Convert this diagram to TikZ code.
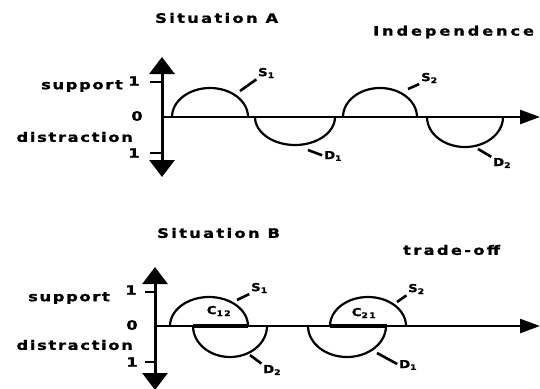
\documentclass[tikz,border=0pt]{standalone}
\usepackage{fontspec}
\newfontfamily\lblfont{DejaVu Sans}[FakeStretch=1.25, FakeBold=1.2, LetterSpace=18]
\newfontfamily\subfont{DejaVu Sans}[FakeStretch=1.2, FakeBold=1.2]
\usetikzlibrary{arrows.meta}

\tikzset{
  axisline/.style={line width=3pt},
  vaxis/.style={axisline, {Triangle[width=25pt,length=17pt]}-{Triangle[width=25pt,length=17pt]}},
  haxis/.style={line width=2.4pt, -{Triangle[width=14pt,length=20pt]}},
  tickmark/.style={line width=2pt},
  curve/.style={line width=2.2pt},
  overlap/.style={line width=4.5pt},
  leader/.style={line width=2.6pt, shorten >=2pt},
  lbl/.style={font=\lblfont\bfseries\fontsize{13}{15}\selectfont, inner sep=0pt},
  sublbl/.style={font=\subfont\bfseries\fontsize{11}{12}\selectfont, inner sep=0pt},
}

\begin{document}
\begin{tikzpicture}[x=1pt, y=-1pt]
  \fill[white] (0,0) rectangle (540,388);
  \useasboundingbox (0,0) rectangle (540,388);

  % ---------- Situation A ----------
  \node[lbl, anchor=west] (titA) at (155,18) {Situation A};
  \node[lbl, anchor=west] (indep) at (373,32) {\addfontfeature{LetterSpace=22}Independence};

  % axes
  \draw[vaxis] (162,177) -- (162,57);
  \draw[haxis] (162,117) -- (540,117);
  \foreach \y in {82,153} \draw[tickmark] (150,\y) -- (162,\y);
  \node[lbl, anchor=east] (supA) at (123,86) {\addfontfeature{LetterSpace=13}support};
  \node[lbl, anchor=east] (disA) at (133,137) {\addfontfeature{LetterSpace=13}distraction};
  \node[lbl] (oneA) at (134,81) {1};
  \node[lbl] (zeroA) at (137,116) {0};
  \node[lbl] (mA) at (134,153) {1};

  % support and distraction curves
  \draw[curve] (172,117) arc[start angle=180, end angle=360, x radius=38, y radius=29];
  \draw[curve] (255,117) arc[start angle=180, end angle=0, x radius=40, y radius=28];
  \draw[curve] (343,117) arc[start angle=180, end angle=360, x radius=37, y radius=29];
  \draw[curve] (427,117) arc[start angle=180, end angle=0, x radius=38, y radius=30];

  % curve labels
  \node[sublbl, anchor=west] (S1a) at (258,73) {S\textsubscript{1}};
  \node[sublbl, anchor=west] (D1a) at (324,156) {D\textsubscript{1}};
  \node[sublbl, anchor=west] (S2a) at (421,78) {S\textsubscript{2}};
  \node[sublbl, anchor=west] (D2a) at (493,163) {D\textsubscript{2}};
  \coordinate (s1a) at (240,91);
  \coordinate (d1a) at (308,150);
  \coordinate (s2a) at (408,89);
  \coordinate (d2a) at (478,149);
  \draw[leader] (s1a) -- (S1a.south west);
  \draw[leader] (d1a) -- (D1a.west);
  \draw[leader] (s2a) -- (S2a.south west);
  \draw[leader] (d2a) -- (D2a.north west);

  % ---------- Situation B ----------
  \node[lbl, anchor=west] (titB) at (157,233) {Situation B};
  \node[lbl, anchor=west] (trade) at (403,250) {trade-off};

  % axes
  \draw[vaxis] (155,390) -- (155,267);
  \draw[haxis] (155,326) -- (540,326);
  \foreach \y in {292,362} \draw[tickmark] (145,\y) -- (155,\y);
  \node[lbl, anchor=east] (supB) at (110,298) {\addfontfeature{LetterSpace=13}support};
  \node[lbl, anchor=east] (disB) at (133,345) {\addfontfeature{LetterSpace=13}distraction};
  \node[lbl] (oneB) at (131,290) {1};
  \node[lbl] (zeroB) at (132,325) {0};
  \node[lbl] (mB) at (132,362) {1};

  % overlapping curves
  \draw[curve] (170,326) arc[start angle=180, end angle=360, x radius=39, y radius=29];
  \draw[curve] (193,326) arc[start angle=180, end angle=0, x radius=37, y radius=31];
  \draw[curve] (330,326) arc[start angle=180, end angle=360, x radius=38, y radius=29];
  \draw[curve] (308,326) arc[start angle=180, end angle=0, x radius=39, y radius=31];
  \draw[overlap] (193,326) -- (248,326);
  \draw[overlap] (330,326) -- (387,326);
  \node[sublbl] (C12) at (219,311) {C\textsubscript{1\,2}};
  \node[sublbl] (C21) at (364,313) {C\textsubscript{2\,1}};

  % curve labels
  \node[sublbl, anchor=west] (S1b) at (251,288) {S\textsubscript{1}};
  \node[sublbl, anchor=west] (D2b) at (263,370) {D\textsubscript{2}};
  \node[sublbl, anchor=west] (S2b) at (408,289) {S\textsubscript{2}};
  \node[sublbl, anchor=west] (D1b) at (399,365) {D\textsubscript{1}};
  \coordinate (s1b) at (237,300);
  \coordinate (d2b) at (250,355);
  \coordinate (s2b) at (397,302);
  \coordinate (d1b) at (377,353);
  \draw[leader] (s1b) -- (S1b.south west);
  \draw[leader] (d2b) -- (D2b.north west);
  \draw[leader] (s2b) -- (S2b.south west);
  \draw[leader] (d1b) -- (D1b.west);
\end{tikzpicture}
\end{document}
